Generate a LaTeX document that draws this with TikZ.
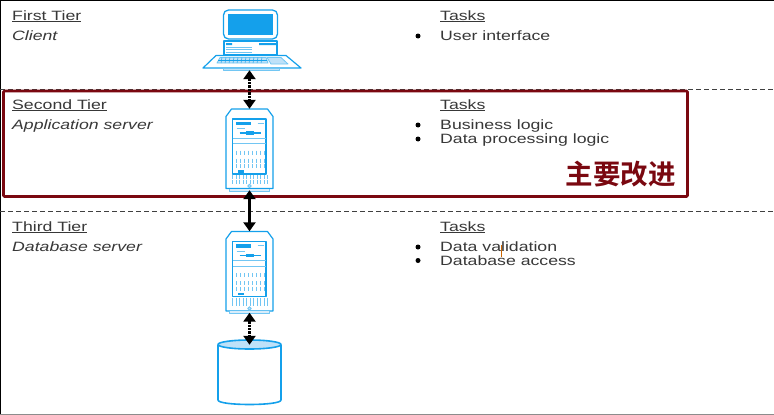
\documentclass[tikz,border=0pt]{standalone}
\usepackage{fontspec}
\setmainfont{Liberation Sans}[FakeStretch=1.31]
\newfontfamily\cjkfont{Noto Sans CJK SC}[BoldFont={* Bold}]
\usetikzlibrary{arrows.meta}
\definecolor{tierblue}{RGB}{20,160,235}
\definecolor{palblue}{RGB}{190,225,248}
\definecolor{boxred}{RGB}{122,8,16}
\tikzset{
  tierlabel/.style={anchor=base west,inner sep=0pt,font=\fontsize{13.5}{15}\selectfont,text=black!78},
  tierrule/.style={dash pattern=on 4.5pt off 3.5pt,line width=0.8pt,color=black!75},
  link/.style={{Triangle[length=9pt,width=12pt]}-{Triangle[length=9pt,width=12pt]},line width=2.4pt,black},
  hw/.style={color=tierblue,line width=1.2pt},
  hwthin/.style={color=tierblue!60,line width=0.8pt},
  tierdot/.style={circle,fill=black,inner sep=0pt,minimum size=5pt},
  hwbox/.style={minimum width=47pt,minimum height=81pt,inner sep=0pt}
}
% tower with its front panel, drawn around a named node
\newcommand{\towerserver}[1]{
  \begin{scope}[shift={(#1)}]
    \draw[hw] (-23.5,-33) -- (-18,-40.5) -- (18,-40.5) -- (23.5,-33) -- (23.5,39) -- (-23.5,39) -- cycle;
    \draw[hwthin,fill=palblue!60] (-20,39) -- (-20,41.5) -- (20,41.5) -- (20,39);
    \draw[hw] (-17,-30.5) rectangle (16.5,24.5);
    \fill[tierblue] (-14,-28) rectangle (1,-24.5);
    \draw[hwthin] (8,-26.5) -- (14,-26.5) (-13,-21) -- (-5,-21);
    \draw[hw] (-10,-16.5) -- (11,-16.5);
    \fill[tierblue] (-4,-18.5) rectangle (4,-15);
    \draw[hwthin] (-17,-11.5) -- (16.5,-11.5) (-17,-6) -- (16.5,-6);
    \foreach \y in {3,11,16.5}{
      \foreach \x in {-13,-9,...,15}{\draw[hwthin] (\x,\y-2) -- (\x,\y+2);}
    }
    \fill[tierblue] (-12,20.5) rectangle (-6,23);
    \foreach \y in {27.5,32}{
      \foreach \x in {-17,-13.5,...,18}{\draw[hwthin] (\x,\y-2) -- (\x,\y+2);}
    }
    \draw[hwthin,fill=palblue] (0,36.5) circle (1.8pt);
  \end{scope}
}
\begin{document}
\begin{tikzpicture}[line cap=butt,line join=round,x=1.0pt,y=-1.0pt]
        \useasboundingbox (0,0) rectangle (774,415);
        \fill[white] (0,0) rectangle (774,415);
        \draw[black,line width=1.6pt] (0,414.5) -- (0,0.5) -- (774,0.5);
        \draw[black!45,line width=1pt] (0,414.5) -- (774,414.5);
        % tier separators
        \draw[tierrule] (0,89.5) -- (774,89.5);
        \draw[tierrule] (0,211) -- (774,211);
        % first tier
        \node[tierlabel] (firsttier) at (12,20) {\underline{First Tier}};
        \node[tierlabel] (client) at (12,40) {\itshape Client};
        \node[tierlabel] (tasksa) at (440,20) {\underline{Tasks}};
        \node[tierdot] (dotaa) at (418,36) {};
        \node[tierlabel] (taskaa) at (440,40) {User interface};
        % second tier
        \node[tierlabel] (secondtier) at (12,109) {\underline{Second Tier}};
        \node[tierlabel] (appserver) at (12,129.5) {\itshape Application server};
        \node[tierlabel] (tasksb) at (440,109) {\underline{Tasks}};
        \node[tierdot] (dotba) at (418,125) {};
        \node[tierdot] (dotbb) at (418,139) {};
        \node[tierlabel] (taskba) at (440,129.5) {Business logic};
        \node[tierlabel] (taskbb) at (440,143.5) {Data processing logic};
        % third tier
        \node[tierlabel] (thirdtier) at (12,231) {\underline{Third Tier}};
        \node[tierlabel] (dbserver) at (12,251) {\itshape Database server};
        \node[tierlabel] (tasksc) at (440,231) {\underline{Tasks}};
        \node[tierdot] (dotca) at (418,247) {};
        \node[tierdot] (dotcb) at (418,260.5) {};
        \node[tierlabel] (taskca) at (440,251.5) {Data validation};
        \node[tierlabel] (taskcb) at (440,265) {Database access};
        \draw[orange!80!black,line width=0.9pt] (501,245) -- (501,257);
        % client computer
        \node[minimum width=98pt,minimum height=60pt,inner sep=0pt] (computer) at (249.5,40) {};
        \draw[hw,line width=1.3pt,rounded corners=5pt] (223.5,10) rectangle (277.5,39);
        \fill[tierblue] (228,13.5) rectangle (273,35);
        \draw[hw] (224,41) rectangle (277,55);
        \fill[tierblue] (226,43) rectangle (232,45) (259,43) rectangle (276,45);
        \draw[hwthin] (226,47) -- (252,47) (226,49.5) -- (252,49.5) (226,52) -- (252,52);
        \draw[hw,fill=white] (216,55.5) -- (286,55.5) -- (301,68) -- (203,68) -- cycle;
        \draw[hwthin,fill=palblue] (217,63) -- (268,63) -- (266,57.5) -- (220,57.5) -- cycle;
        \draw[hwthin,fill=palblue] (267,57.5) -- (281,57.5) -- (288,64) -- (271,64) -- cycle;
        \foreach \x in {222,226,...,264}{\draw[tierblue,line width=0.5pt] (\x,57.5) -- (\x-1,63);}
        \draw[tierblue,line width=0.5pt] (218,60.2) -- (267,60.2);
        \draw[hwthin,fill=palblue] (223,68) rectangle (279,70);
        % servers
        \node[hwbox] (appbox) at (249.5,149.5) {};
        \towerserver{249.5,149.5}
        \node[hwbox] (dbbox) at (249.5,272) {};
        \towerserver{249.5,272}
        % database
        \node[minimum width=63pt,minimum height=60pt,inner sep=0pt] (database) at (249.5,375) {};
        \draw[tierblue,line width=1.6pt,fill=white] (218,344.5) -- (218,400) .. controls (218,406) and (281,406) .. (281,400) -- (281,344.5);
        \draw[tierblue,line width=1.6pt,fill=palblue] (249.5,344.5) ellipse (31.5pt and 4.5pt);
        % highlighted tier
        \draw[boxred,line width=2.8pt,rounded corners=1pt] (3.5,91) rectangle (687.5,196.5);
        \node[inner sep=0pt,text=boxred,font=\cjkfont\bfseries\fontsize{27.5}{30}\selectfont,anchor=center] (improve) at (620.5,174) {主要改进};
        % links between the tiers
        \draw[link,densely dotted] (computer.south) -- (appbox.north);
        \draw[link] (appbox.south) -- (dbbox.north);
        \draw[link,densely dotted] (dbbox.south) -- (database.north);
\end{tikzpicture}
\end{document}
